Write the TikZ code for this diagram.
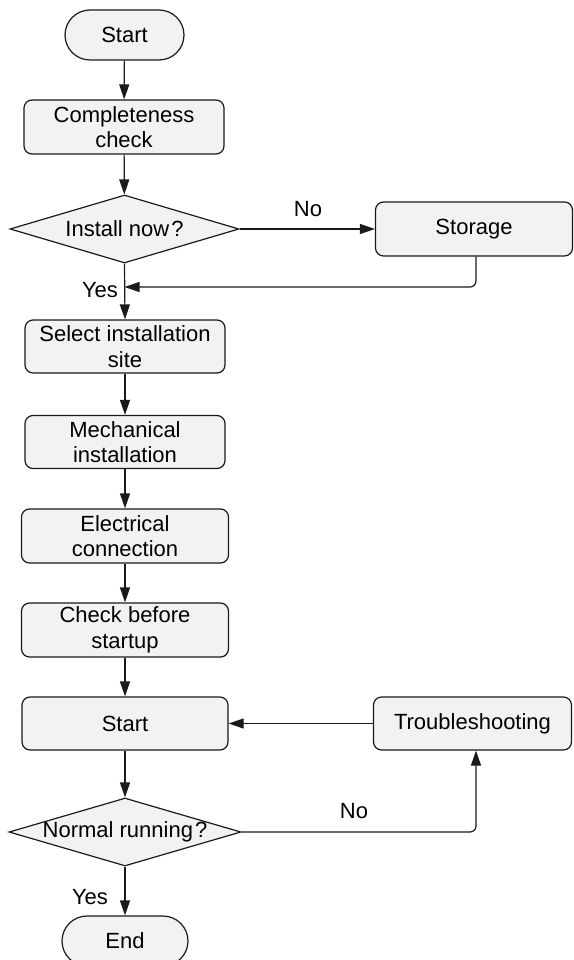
\documentclass[tikz,border=0pt]{standalone}
\usepackage{fontspec}
\setmainfont{Liberation Sans}
\usetikzlibrary{arrows.meta,shapes.geometric}
\definecolor{boxfill}{HTML}{F2F2F2}
\definecolor{linec}{HTML}{1A1A1A}
\begin{document}
\begin{tikzpicture}[x=1pt,y=-1pt,
  every node/.style={font=\fontsize{22}{25.5}\selectfont, text=black},
  procbox/.style={draw=linec, fill=boxfill, line width=1.2pt, rounded corners=8pt, inner sep=0pt, align=center},
  termbox/.style={draw=linec, fill=boxfill, line width=1.2pt, rounded corners=25pt, inner sep=0pt, minimum height=50pt},
  decbox/.style={draw=linec, fill=boxfill, line width=1.2pt, diamond, inner sep=0pt},
  lbl/.style={inner sep=0pt},
  arr/.style={draw=linec, line width=1.2pt, -{Triangle[length=15pt,width=10pt]}},
  conn/.style={draw=linec, line width=1.2pt}
]
\useasboundingbox (0,0) rectangle (573,960);

\node[termbox, minimum width=119pt] (start) at (124.5,35) {Start};
\node[procbox, minimum width=200pt, minimum height=54pt] (comp) at (124,127) {Completeness\\check};
\node[decbox, minimum width=229pt, minimum height=68pt, label={[lbl]center:{Install now\kern2pt?}}] (inst) at (124.5,229) {};
\node[procbox, minimum width=197pt, minimum height=54pt] (storage) at (474,229) {Storage};
\node[procbox, minimum width=200pt, minimum height=53pt] (select) at (125,346.5) {Select installation\\site};
\node[procbox, minimum width=200pt, minimum height=53pt] (mech) at (125,442) {Mechanical\\installation};
\node[procbox, minimum width=207pt, minimum height=54pt] (elec) at (125,536) {Electrical\\connection};
\node[procbox, minimum width=207pt, minimum height=54pt] (check) at (125,630) {Check before\\startup};
\node[procbox, minimum width=206pt, minimum height=53pt] (start2) at (125,723.5) {Start};
\node[procbox, minimum width=198pt, minimum height=53pt] (trouble) at (472.5,723.5) {Troubleshooting};
\node[decbox, minimum width=232pt, minimum height=68pt, label={[lbl]center:{Normal running\kern2pt?}}] (normal) at (125,832) {};
\node[termbox, minimum width=126pt] (end) at (125,941) {End};

\coordinate (merge) at (124.5,287);
\coordinate (tbend) at (476,832);

\node[lbl] (no1) at (308,209) {No};
\node[lbl] (yes1) at (100,290) {Yes};
\node[lbl] (no2) at (354,811) {No};
\node[lbl] (yes2) at (90,897) {Yes};

\draw[arr] (start) -- (comp);
\draw[arr] (comp) -- (inst);
\draw[arr] (inst.east) -- (storage.west);
\draw[arr, rounded corners=6pt] (storage.south -| tbend) |- (merge);
\draw[arr] (inst.south) -- (select.north);
\draw[arr] (select) -- (mech);
\draw[arr] (mech) -- (elec);
\draw[arr] (elec) -- (check);
\draw[arr] (check) -- (start2);
\draw[arr] (trouble.west) -- (start2.east);
\draw[arr] (start2) -- (normal);
\draw[arr, rounded corners=6pt] (normal.east) -- (tbend) -- (tbend |- trouble.south);
\draw[arr] (normal.south) -- (end.north);
\end{tikzpicture}
\end{document}
